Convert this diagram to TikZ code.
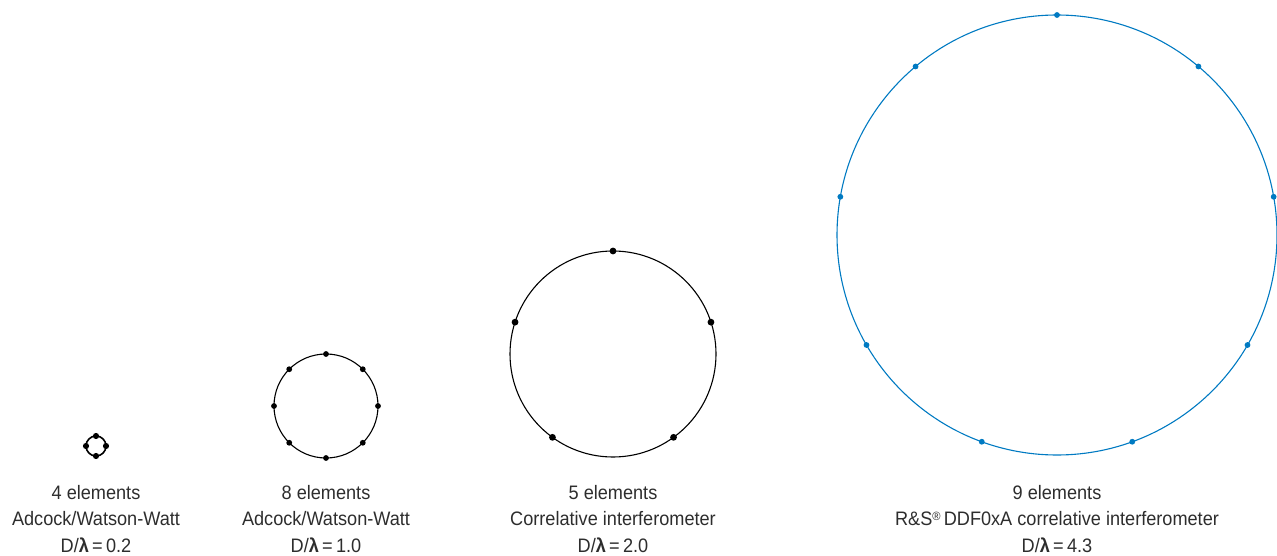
\documentclass[tikz,border=0pt]{standalone}
\usepackage{fontspec}
\usetikzlibrary{calc}
\setmainfont{Liberation Sans}[FakeStretch=0.93]
\definecolor{txt}{RGB}{45,45,45}
\definecolor{rsblue}{RGB}{0,122,194}
\begin{document}
\begin{tikzpicture}[x=1pt,y=-1pt,
  ring/.style={draw=black,line width=1.1pt},
  bluering/.style={draw=rsblue,line width=1.1pt},
  blackdot/.style={fill=black},
  bluedot/.style={fill=rsblue},
  lbl/.style={text=txt,align=center,font=\fontsize{19.5}{26.5}\selectfont,anchor=north,inner sep=0pt}]
\useasboundingbox (0,0) rectangle (1277,556);
% circle 1
\draw[ring,line width=1.6pt] (96,446) circle (10);
\foreach \a in {0,90,180,270}
  \fill[blackdot] ($(96,446)+(\a:10)$) circle (3.1);
% circle 2
\draw[ring] (326,406) circle (52);
\foreach \a in {0,45,...,315}
  \fill[blackdot] ($(326,406)+(\a:52)$) circle (2.9);
% circle 3
\draw[ring] (613,354) circle (103);
\foreach \a in {90,162,234,306,18}
  \fill[blackdot] ($(613,354)+(-\a:103)$) circle (3.4);
% circle 4
\draw[bluering] (1057,235) circle (220);
\foreach \a in {90,50,10,-30,-70,-110,-150,170,130}
  \fill[bluedot] ($(1057,235)+(-\a:220)$) circle (2.9);
% labels
\node[lbl] (l1) at (96,485) {4 elements\\Adcock/Watson-Watt\\D/\textbf{λ}\,=\,0.2};
\node[lbl] (l2) at (326,485) {8 elements\\Adcock/Watson-Watt\\D/\textbf{λ}\,=\,1.0};
\node[lbl] (l3) at (613,485) {5 elements\\Correlative interferometer\\D/\textbf{λ}\,=\,2.0};
\node[lbl] (l4) at (1057,485) {9 elements\\R\&S\raisebox{0.5ex}{\fontsize{12}{12}\selectfont ®}\,DDF0xA correlative interferometer\\D/\textbf{λ}\,=\,4.3};
\end{tikzpicture}
\end{document}
